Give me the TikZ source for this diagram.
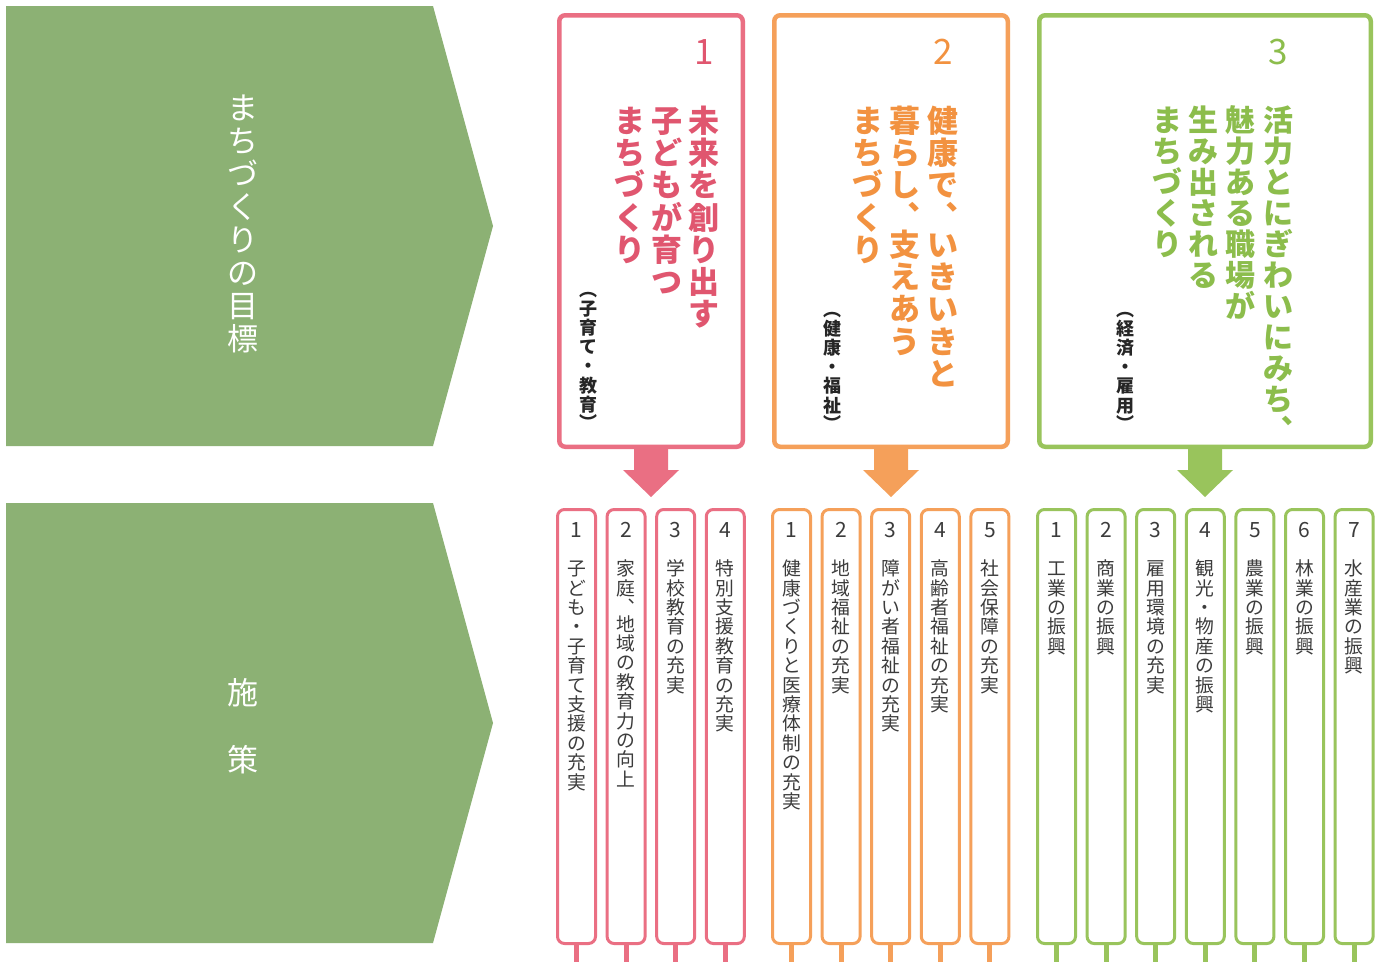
\documentclass[tikz,border=0pt]{standalone}
\usepackage{fontspec}
\setmainfont{Noto Sans CJK JP}
\definecolor{pinkB}{HTML}{EA6F83}
\definecolor{pinkT}{HTML}{E0566F}
\definecolor{oranB}{HTML}{F5A05A}
\definecolor{oranT}{HTML}{F29240}
\definecolor{grnB}{HTML}{99C45C}
\definecolor{grnT}{HTML}{8CBD4C}
\definecolor{leftG}{HTML}{8CB174}
\definecolor{txt}{HTML}{3C3C3C}
\definecolor{dark}{HTML}{262626}
\ExplSyntaxOn
\dim_new:N \l__vt_p_dim
\cs_new_protected:Npn \__vt_cell:nnn #1#2#3
  { \hbox:n { \vrule width 0pt height #1 depth 0pt \raise #2 \hbox:n { \smash{#3} } } }
\NewDocumentCommand \vtext { m m }
  {
    \dim_set:Nn \l__vt_p_dim {#1}
    \vbox:n
      {
        \offinterlineskip
        \tl_map_inline:nn {#2}
          {
            \str_case:nnF {##1}
              {
                {︑} { \__vt_cell:nnn { \dim_eval:n {0.68\l__vt_p_dim} } { \dim_eval:n {0.68\l__vt_p_dim - 0.88em} } {##1} }
                {︵} { \__vt_cell:nnn { \dim_eval:n {0.45\l__vt_p_dim} } { 0.12em } {##1} }
                {︶} { \__vt_cell:nnn { \dim_eval:n {0.45\l__vt_p_dim} } { \dim_eval:n {0.45\l__vt_p_dim - 0.88em} } {##1} }
              }
              { \__vt_cell:nnn { \dim_use:N \l__vt_p_dim } { \dim_eval:n {(\l__vt_p_dim - 1em)/2 + 0.12em} } {##1} }
          }
      }
  }
\ExplSyntaxOff
\tikzset{
  goalbox/.style={draw, line width=4.5pt, rounded corners=6pt, fill=white, inner sep=0pt},
  sbox/.style={draw, line width=3pt, rounded corners=7pt, fill=white, minimum width=38pt, minimum height=434pt, inner sep=0pt},
  numtxt/.style={font=\fontsize{21}{21}\selectfont, text=txt, inner sep=0pt},
  itemtxt/.style={font=\fontsize{18.8}{19}\selectfont, text=txt, inner sep=0pt, anchor=north},
  ttl/.style={font=\bfseries\fontsize{31}{32}\selectfont, inner sep=0pt, anchor=north},
  ttlc/.style={font=\bfseries\fontsize{30}{31}\selectfont, inner sep=0pt, anchor=north},
  subt/.style={font=\bfseries\fontsize{18}{18}\selectfont, text=dark, inner sep=0pt, anchor=north},
  gnum/.style={font=\fontsize{35}{35}\selectfont, inner sep=0pt},
  stem/.style={line width=5pt},
  lefttxt/.style={font=\fontsize{31}{33}\selectfont, text=white, inner sep=0pt},
}
\newcommand\policy[5]{%
  \node[sbox, draw=#3] (#1) at (#2+20.5,726.5) {};
  \node[numtxt] (#1n) at (#2+20.5,530) {#4};
  \node[itemtxt] (#1t) at (#2+20.5,558.6) {\vtext{19.4pt}{#5}};
  \draw[stem, draw=#3] ([yshift=1pt]#1.south) -- ++(0,20);
}
\begin{document}
\begin{tikzpicture}[x=1pt,y=-1pt]
\useasboundingbox (0,0) rectangle (1388,961);
\fill[white] (0,0) rectangle (1388,961);
% left pentagons
\fill[leftG] (6,6) -- (433,6) -- (493,226) -- (433,446) -- (6,446) -- cycle;
\fill[leftG] (6,503) -- (433,503) -- (493,723) -- (433,943) -- (6,943) -- cycle;
\node[lefttxt, anchor=north] (goalT) at (243,91.5) {\vtext{33pt}{まちづくりの目標}};
\node[lefttxt] (pol1) at (243,693) {施};
\node[lefttxt] (pol2) at (243,760) {策};
% goal boxes
\node[goalbox, draw=pinkB, minimum width=183.5pt, minimum height=431.5pt] (g1) at (651,231) {};
\node[goalbox, draw=oranB, minimum width=233.5pt, minimum height=431.5pt] (g2) at (891,231) {};
\node[goalbox, draw=grnB, minimum width=331.5pt, minimum height=431.5pt] (g3) at (1205,231) {};
% arrows
\fill[pinkB] (g1.south) ++(-17,-2) -- ++(0,23) -- ++(-11,0) -- ++(28,27) -- ++(28,-27) -- ++(-11,0) -- ++(0,-23) -- cycle;
\fill[oranB] (g2.south) ++(-17,-2) -- ++(0,23) -- ++(-11,0) -- ++(28,27) -- ++(28,-27) -- ++(-11,0) -- ++(0,-23) -- cycle;
\fill[grnB] (g3.south) ++(-17,-2) -- ++(0,23) -- ++(-11,0) -- ++(28,27) -- ++(28,-27) -- ++(-11,0) -- ++(0,-23) -- cycle;
% goal 1
\node[gnum, text=pinkT] (g1n) at (704,52) {1};
\node[ttl, text=pinkT] (g1a) at (704,104.5) {\vtext{32.2pt}{未来を創り出す}};
\node[ttl, text=pinkT] (g1b) at (667,104.5) {\vtext{32.2pt}{子どもが育つ}};
\node[ttl, text=pinkT] (g1c) at (630,104.5) {\vtext{32.2pt}{まちづくり}};
\node[subt] (g1s) at (588,290) {\vtext{19.2pt}{︵子育て・教育︶}};
% goal 2
\node[gnum, text=oranT] (g2n) at (943,52) {2};
\node[ttl, text=oranT] (g2a) at (943,104.5) {\vtext{32.2pt}{健康で︑いきいきと}};
\node[ttl, text=oranT] (g2b) at (905,104.5) {\vtext{32.2pt}{暮らし︑支えあう}};
\node[ttl, text=oranT] (g2c) at (868,104.5) {\vtext{32.2pt}{まちづくり}};
\node[subt] (g2s) at (832,310) {\vtext{19.2pt}{︵健康・福祉︶}};
% goal 3
\node[gnum, text=grnT] (g3n) at (1278,52) {3};
\node[ttlc, text=grnT] (g3a) at (1278,104.5) {\vtext{31pt}{活力とにぎわいにみち︑}};
\node[ttlc, text=grnT] (g3b) at (1240,104.5) {\vtext{31pt}{魅力ある職場が}};
\node[ttlc, text=grnT] (g3c) at (1203,104.5) {\vtext{31pt}{生み出される}};
\node[ttlc, text=grnT] (g3d) at (1167,104.5) {\vtext{31pt}{まちづくり}};
\node[subt] (g3s) at (1125,310) {\vtext{19.2pt}{︵経済・雇用︶}};
% policies
\policy{p1}{556}{pinkB}{1}{子ども・子育て支援の充実}
\policy{p2}{605.6}{pinkB}{2}{家庭︑地域の教育力の向上}
\policy{p3}{655.2}{pinkB}{3}{学校教育の充実}
\policy{p4}{704.8}{pinkB}{4}{特別支援教育の充実}
\policy{h1}{771}{oranB}{1}{健康づくりと医療体制の充実}
\policy{h2}{820.6}{oranB}{2}{地域福祉の充実}
\policy{h3}{870.2}{oranB}{3}{障がい者福祉の充実}
\policy{h4}{919.8}{oranB}{4}{高齢者福祉の充実}
\policy{h5}{969.4}{oranB}{5}{社会保障の充実}
\policy{e1}{1036}{grnB}{1}{工業の振興}
\policy{e2}{1085.6}{grnB}{2}{商業の振興}
\policy{e3}{1135.2}{grnB}{3}{雇用環境の充実}
\policy{e4}{1184.8}{grnB}{4}{観光・物産の振興}
\policy{e5}{1234.4}{grnB}{5}{農業の振興}
\policy{e6}{1284}{grnB}{6}{林業の振興}
\policy{e7}{1333.6}{grnB}{7}{水産業の振興}
\end{tikzpicture}
\end{document}
